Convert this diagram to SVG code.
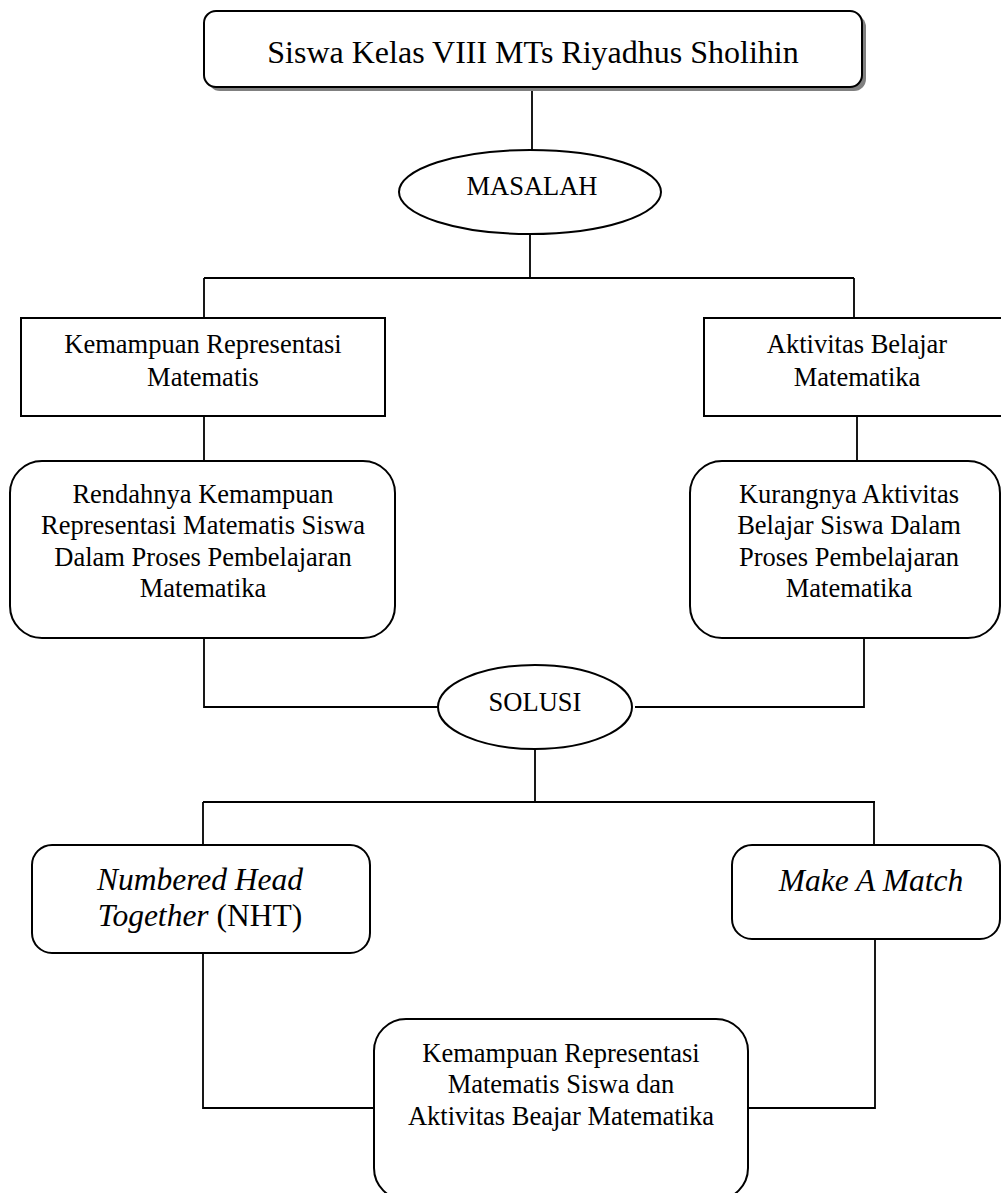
<svg xmlns="http://www.w3.org/2000/svg" width="1001" height="1193" viewBox="0 0 1001 1193">
<style>
.box{fill:#fff;stroke:#000;stroke-width:2}
.ln{fill:none;stroke:#000;stroke-width:1.8}
text{font-family:"Liberation Serif","Times New Roman",serif;fill:#000;text-anchor:middle}
.t{font-size:26.5px}
.it{font-size:31.5px;font-style:italic}
</style>
<rect width="1001" height="1193" fill="#fff"/>
<g id="connectors">
<path class="ln" d="M532 87V150"/>
<path class="ln" d="M530 234V278M204 278H854M204 278V318M854 278V318"/>
<path class="ln" d="M204 416V461M857 416V461"/>
<path class="ln" d="M204 638V707H438M864 638V707H635"/>
<path class="ln" d="M535 749V802M203 802H875M203 802V845M874 802V845"/>
<path class="ln" d="M203 953V1108H374M875 939V1108H748"/>
</g>
<g id="title">
<rect x="208" y="15" width="658" height="76" rx="12" fill="#808080"/>
<rect class="box" x="204" y="11" width="658" height="76" rx="12"/>
<text x="533" y="63" style="font-size:32px">Siswa Kelas VIII MTs Riyadhus Sholihin</text>
</g>
<g id="masalah">
<ellipse class="box" cx="530" cy="192" rx="131" ry="42"/>
<text class="t" x="532" y="195">MASALAH</text>
</g>
<g id="kemampuan">
<rect class="box" x="21" y="318" width="364" height="98"/>
<text class="t" x="203" y="353">Kemampuan Representasi</text>
<text class="t" x="203" y="386">Matematis</text>
</g>
<g id="aktivitas">
<rect class="box" x="704" y="318" width="300" height="98"/>
<text class="t" x="857" y="353">Aktivitas Belajar</text>
<text class="t" x="857" y="386">Matematika</text>
</g>
<g id="rendahnya">
<rect class="box" x="10" y="461" width="385" height="177" rx="32"/>
<text class="t" x="203" y="503">Rendahnya Kemampuan</text>
<text class="t" x="203" y="534">Representasi Matematis Siswa</text>
<text class="t" x="203" y="566">Dalam Proses Pembelajaran</text>
<text class="t" x="203" y="597">Matematika</text>
</g>
<g id="kurangnya">
<rect class="box" x="690" y="461" width="310" height="177" rx="32"/>
<text class="t" x="849" y="503">Kurangnya Aktivitas</text>
<text class="t" x="849" y="534">Belajar Siswa Dalam</text>
<text class="t" x="849" y="566">Proses Pembelajaran</text>
<text class="t" x="849" y="597">Matematika</text>
</g>
<g id="solusi">
<ellipse class="box" cx="535" cy="707" rx="97" ry="42"/>
<text class="t" x="535" y="711">SOLUSI</text>
</g>
<g id="nht">
<rect class="box" x="32" y="845" width="338" height="108" rx="20"/>
<text class="it" x="200" y="890">Numbered Head</text>
<text x="200" y="926" style="font-size:31.5px"><tspan font-style="italic">Together</tspan> (NHT)</text>
</g>
<g id="mam">
<rect class="box" x="732" y="845" width="268" height="94" rx="20"/>
<text class="it" x="871" y="891">Make A Match</text>
</g>
<g id="hasil">
<rect class="box" x="374" y="1019" width="374" height="181" rx="32"/>
<text class="t" x="561" y="1062">Kemampuan Representasi</text>
<text class="t" x="561" y="1093">Matematis Siswa dan</text>
<text class="t" x="561" y="1125">Aktivitas Beajar Matematika</text>
</g>
</svg>
